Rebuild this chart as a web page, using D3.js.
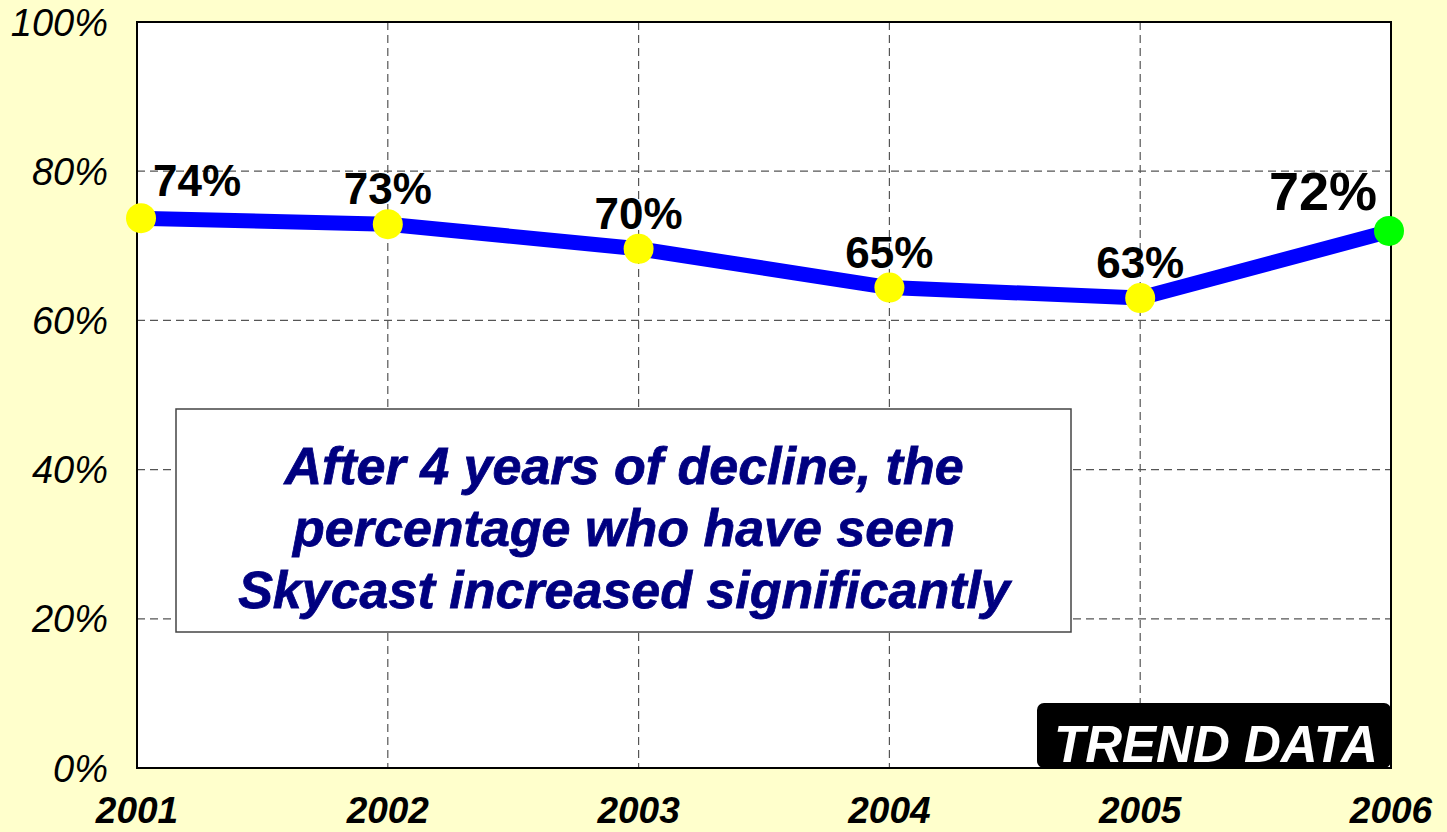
<!DOCTYPE html>
<html>
<head>
<meta charset="utf-8">
<script src="https://cdn.jsdelivr.net/npm/d3@7"></script>
<style>
  html, body { margin: 0; padding: 0; background: #FFFFCC; }
  svg { display: block; font-family: Arial, "Liberation Sans", sans-serif; }
</style>
</head>
<body>
<div id="chart"></div>
<script>
// data
var years = ["2001", "2002", "2003", "2004", "2005", "2006"];
var seen = [73.7, 72.9, 69.6, 64.4, 63.0, 72.0];
var seenLabels = ["74%", "73%", "70%", "65%", "63%", "72%"];
var yTicks = [0, 20, 40, 60, 80, 100];
var noteLines = ["After 4 years of decline, the", "percentage who have seen", "Skycast increased significantly"];

var width = 1447, height = 832;
var margin = {top: 22, right: 56, bottom: 64, left: 137};

var svg = d3.select("#chart").append("svg")
    .attr("width", width)
    .attr("height", height);

svg.append("rect").attr("width", width).attr("height", height).attr("fill", "#FFFFCC");

var x = d3.scalePoint().domain(years).range([margin.left, width - margin.right]);
var y = d3.scaleLinear().domain([0, 100]).range([height - margin.bottom, margin.top]);

// plot area
svg.append("rect")
    .attr("x", x.range()[0]).attr("y", y(100))
    .attr("width", x.range()[1] - x.range()[0])
    .attr("height", y(0) - y(100))
    .attr("fill", "white");

// grid
svg.append("g").selectAll("line.h")
    .data(yTicks.filter(function(d){ return d > 0 && d < 100; }))
    .enter().append("line")
    .attr("x1", x.range()[0]).attr("x2", x.range()[1])
    .attr("y1", function(d){ return y(d); }).attr("y2", function(d){ return y(d); })
    .attr("stroke", "#555").attr("stroke-width", 1.2).attr("stroke-dasharray", "8,5");

svg.append("g").selectAll("line.v")
    .data(years.slice(1, -1))
    .enter().append("line")
    .attr("x1", function(d){ return x(d); }).attr("x2", function(d){ return x(d); })
    .attr("y1", y(100)).attr("y2", y(0))
    .attr("stroke", "#555").attr("stroke-width", 1.2).attr("stroke-dasharray", "8,5");

// border
svg.append("rect")
    .attr("x", x.range()[0]).attr("y", y(100))
    .attr("width", x.range()[1] - x.range()[0])
    .attr("height", y(0) - y(100))
    .attr("fill", "none").attr("stroke", "black").attr("stroke-width", 2);

// y labels
svg.append("g").selectAll("text")
    .data(yTicks)
    .enter().append("text")
    .attr("x", 108)
    .attr("y", function(d){ return y(d); })
    .attr("dy", "0.36em")
    .attr("text-anchor", "end")
    .style("font-size", "38px")
    .style("font-style", "italic")
    .text(function(d){ return d + "%"; });

// x labels
svg.append("g").selectAll("text")
    .data(years)
    .enter().append("text")
    .attr("x", function(d){ return x(d); })
    .attr("y", 823)
    .attr("text-anchor", "middle")
    .style("font-size", "37px")
    .style("font-weight", "bold")
    .style("font-style", "italic")
    .text(function(d){ return d; });

// annotation box
var box = svg.append("g");
box.append("rect")
    .attr("x", 176).attr("y", 409).attr("width", 895).attr("height", 223)
    .attr("fill", "white").attr("stroke", "#444").attr("stroke-width", 1.5);
box.selectAll("text")
    .data(noteLines)
    .enter().append("text")
    .attr("x", 624)
    .attr("y", function(d, i){ return 484 + i * 62; })
    .attr("text-anchor", "middle")
    .attr("fill", "#000080")
    .attr("stroke", "#000080")
    .attr("stroke-width", 0.8)
    .style("font-size", "52px")
    .style("font-weight", "bold")
    .style("font-style", "italic")
    .text(function(d){ return d; });

// trend data tag
svg.append("rect")
    .attr("x", 1037).attr("y", 703).attr("width", 354).attr("height", 65)
    .attr("rx", 7).attr("fill", "black");
svg.append("text")
    .attr("x", 1216).attr("y", 762)
    .attr("text-anchor", "middle")
    .attr("fill", "white")
    .style("font-size", "51px")
    .style("font-weight", "bold")
    .style("font-style", "italic")
    .text("TREND DATA");

// line
var line = d3.line()
    .x(function(d, i){ return x(years[i]); })
    .y(function(d){ return y(d); });

svg.append("path")
    .datum(seen)
    .attr("d", line)
    .attr("fill", "none")
    .attr("stroke", "#0000FF")
    .attr("stroke-width", 15);

svg.append("g").selectAll("circle")
    .data(seen)
    .enter().append("circle")
    .attr("cx", function(d, i){ return x(years[i]) + (i == 0 ? 4 : (i == years.length - 1 ? -2 : 0)); })
    .attr("cy", function(d){ return y(d); })
    .attr("r", 15)
    .attr("fill", function(d, i){ return i == years.length - 1 ? "#00FF00" : "#FFFF00"; });

// value labels
svg.append("g").selectAll("text")
    .data(seen)
    .enter().append("text")
    .attr("x", function(d, i){
        if (i == 0) return x(years[i]) + 16;
        if (i == years.length - 1) return x(years[i]) - 14;
        return x(years[i]);
    })
    .attr("y", function(d, i){ return y(d) - (i == 0 ? 22 : i == years.length - 1 ? 21 : 20); })
    .attr("text-anchor", function(d, i){ return i == 0 ? "start" : (i == years.length - 1 ? "end" : "middle"); })
    .style("font-size", function(d, i){ return i == years.length - 1 ? "54px" : "44px"; })
    .style("font-weight", "bold")
    .text(function(d, i){ return seenLabels[i]; });
</script>
</body>
</html>
